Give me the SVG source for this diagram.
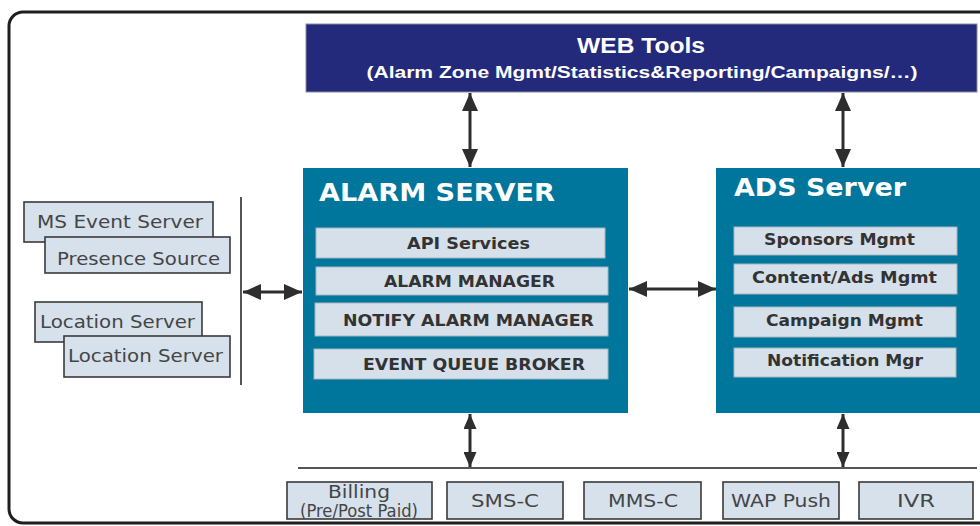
<svg xmlns="http://www.w3.org/2000/svg" width="980" height="526" viewBox="0 0 980 526">
<style>
.frame{fill:#fff;stroke:#1e1e1e;stroke-width:3}
.web{fill:#232a7b;stroke:#8a8a9a;stroke-width:1}
.srv{fill:#00769c}
.sub{fill:#d5e0ea;stroke:#a8b4c0;stroke-width:1}
.ext{fill:#d6e1ec;stroke:#3a3a3a;stroke-width:1.6}
.t-web{font-family:"Liberation Sans",Arial,sans-serif;font-weight:bold;fill:#fff}
.t-srv{font-family:"DejaVu Sans",Verdana,sans-serif;font-weight:bold;fill:#fff;font-size:24px}
.t-sub{font-family:"DejaVu Sans",Verdana,sans-serif;font-weight:bold;fill:#333;font-size:15px}
.t-ext{font-family:"DejaVu Sans",Verdana,sans-serif;fill:#454545;font-size:17px}
.conn{stroke:#2e2e2e;stroke-width:3;fill:none}
.bus{stroke:#555;stroke-width:2;fill:none}
</style>
<defs>
<marker id="ah" viewBox="0 0 10 10" refX="10" refY="5" markerUnits="userSpaceOnUse" markerWidth="18" markerHeight="16" orient="auto-start-reverse" preserveAspectRatio="none">
<path d="M0,0 L10,5 L0,10 z" fill="#2e2e2e"/>
</marker>
<marker id="ahs" viewBox="0 0 10 10" refX="10" refY="5" markerUnits="userSpaceOnUse" markerWidth="15" markerHeight="13" orient="auto-start-reverse" preserveAspectRatio="none">
<path d="M0,0 L10,5 L0,10 z" fill="#2e2e2e"/>
</marker>
</defs>
<rect class="frame" x="9" y="12" width="1000" height="511" rx="14"/>

<g id="web-tools">
<rect class="web" x="306" y="24" width="671" height="68"/>
<text class="t-web" x="641" y="53" font-size="22" text-anchor="middle" textLength="128" lengthAdjust="spacingAndGlyphs">WEB Tools</text>
<text class="t-web" x="642" y="78" font-size="16" text-anchor="middle" textLength="551" lengthAdjust="spacingAndGlyphs">(Alarm Zone Mgmt/Statistics&amp;Reporting/Campaigns/…)</text>
</g>

<g id="alarm-server">
<rect class="srv" x="303" y="168" width="325" height="245"/>
<text class="t-srv" x="319" y="201" textLength="236" lengthAdjust="spacingAndGlyphs">ALARM SERVER</text>
<rect class="sub" x="316" y="228" width="289" height="30"/>
<text class="t-sub" x="407" y="249" textLength="123" lengthAdjust="spacingAndGlyphs">API Services</text>
<rect class="sub" x="316" y="267" width="292" height="28"/>
<text class="t-sub" x="384" y="287" textLength="171" lengthAdjust="spacingAndGlyphs">ALARM MANAGER</text>
<rect class="sub" x="315" y="303" width="293" height="33"/>
<text class="t-sub" x="343" y="326" textLength="251" lengthAdjust="spacingAndGlyphs">NOTIFY ALARM MANAGER</text>
<rect class="sub" x="314" y="349" width="294" height="30"/>
<text class="t-sub" x="363" y="370" textLength="222" lengthAdjust="spacingAndGlyphs">EVENT QUEUE BROKER</text>
</g>

<g id="ads-server">
<rect class="srv" x="716" y="168" width="270" height="245"/>
<text class="t-srv" x="734" y="196" textLength="172" lengthAdjust="spacingAndGlyphs">ADS Server</text>
<rect class="sub" x="734" y="227" width="223" height="28"/>
<text class="t-sub" x="764" y="245" textLength="151" lengthAdjust="spacingAndGlyphs">Sponsors Mgmt</text>
<rect class="sub" x="734" y="264" width="223" height="30"/>
<text class="t-sub" x="752" y="283" textLength="185" lengthAdjust="spacingAndGlyphs">Content/Ads Mgmt</text>
<rect class="sub" x="734" y="307" width="222" height="30"/>
<text class="t-sub" x="766" y="326" textLength="157" lengthAdjust="spacingAndGlyphs">Campaign Mgmt</text>
<rect class="sub" x="734" y="348" width="222" height="29"/>
<text class="t-sub" x="767" y="366" textLength="156" lengthAdjust="spacingAndGlyphs">Notification Mgr</text>
</g>

<g id="ms-event-server">
<rect class="ext" x="24" y="202" width="189" height="40"/>
<text class="t-ext" x="37" y="228" textLength="166" lengthAdjust="spacingAndGlyphs">MS Event Server</text>
</g>
<g id="presence-source">
<rect class="ext" x="45" y="237" width="185" height="36"/>
<text class="t-ext" x="57" y="265" textLength="163" lengthAdjust="spacingAndGlyphs">Presence Source</text>
</g>
<g id="location-server-1">
<rect class="ext" x="35" y="302" width="167" height="40"/>
<text class="t-ext" x="40" y="328" textLength="155" lengthAdjust="spacingAndGlyphs">Location Server</text>
</g>
<g id="location-server-2">
<rect class="ext" x="64" y="336" width="166" height="41"/>
<text class="t-ext" x="68" y="362" textLength="155" lengthAdjust="spacingAndGlyphs">Location Server</text>
</g>

<g id="billing">
<rect class="ext" x="287" y="482" width="145" height="37"/>
<text class="t-ext" x="359" y="498" text-anchor="middle" textLength="62" lengthAdjust="spacingAndGlyphs">Billing</text>
<text class="t-ext" x="359" y="517" font-size="13" text-anchor="middle" textLength="118" lengthAdjust="spacingAndGlyphs">(Pre/Post Paid)</text>
</g>
<g id="sms-c">
<rect class="ext" x="447" y="482" width="116" height="37"/>
<text class="t-ext" x="505" y="507" text-anchor="middle" textLength="68" lengthAdjust="spacingAndGlyphs">SMS-C</text>
</g>
<g id="mms-c">
<rect class="ext" x="584" y="482" width="117" height="37"/>
<text class="t-ext" x="643" y="507" text-anchor="middle" textLength="70" lengthAdjust="spacingAndGlyphs">MMS-C</text>
</g>
<g id="wap-push">
<rect class="ext" x="723" y="482" width="116" height="37"/>
<text class="t-ext" x="781" y="507" text-anchor="middle" textLength="100" lengthAdjust="spacingAndGlyphs">WAP Push</text>
</g>
<g id="ivr">
<rect class="ext" x="859" y="482" width="114" height="37"/>
<text class="t-ext" x="916" y="507" text-anchor="middle" textLength="38" lengthAdjust="spacingAndGlyphs">IVR</text>
</g>

<g id="connectors">
<line class="bus" x1="241" y1="197" x2="241" y2="385"/>
<line class="bus" x1="298" y1="468" x2="977" y2="468"/>
<line class="conn" x1="470" y1="93" x2="470" y2="167" marker-start="url(#ah)" marker-end="url(#ah)"/>
<line class="conn" x1="843" y1="93" x2="843" y2="167" marker-start="url(#ah)" marker-end="url(#ah)"/>
<line class="conn" x1="243" y1="292" x2="302" y2="292" marker-start="url(#ah)" marker-end="url(#ah)"/>
<line class="conn" x1="629" y1="289" x2="716" y2="289" marker-start="url(#ah)" marker-end="url(#ah)"/>
<line class="conn" x1="470" y1="414" x2="470" y2="467" marker-start="url(#ahs)" marker-end="url(#ahs)"/>
<line class="conn" x1="843" y1="414" x2="843" y2="467" marker-start="url(#ahs)" marker-end="url(#ahs)"/>
</g>
</svg>
